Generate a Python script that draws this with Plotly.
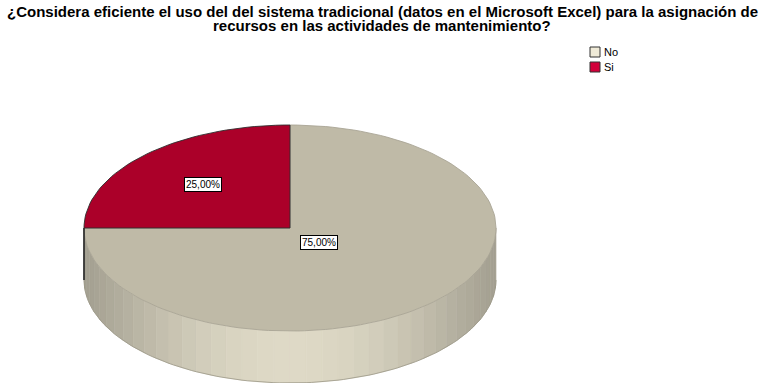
import math
import plotly.graph_objects as go

# Survey answers and their shares (percent)
categories = ["No", "Si"]
percent = [75.0, 25.0]

# Colours: legend swatch, top face, slice outline, and side (bright / dark) per answer
legend_colors = ["#EFEAD7", "#D2003A"]
top_colors = ["#BFBAA7", "#AB0029"]
outline_colors = ["#A9A595", "#2E2E2E"]
side_bright = [(222, 217, 198), (200, 0, 45)]
side_dark = [(164, 160, 145), (120, 0, 28)]
label_radius = [0.2, 0.6]

title_lines = [
    "¿Considera eficiente el uso del del sistema tradicional (datos en el Microsoft Excel) para la asignación de",
    "recursos en las actividades de mantenimiento?",
]

W, H = 764, 383
cx, cy, rx, ry, depth = 290, 228, 206, 103, 52
FONT = "Arial, Liberation Sans, sans-serif"


def pt(a_deg, dy=0.0):
    a = math.radians(a_deg)
    return cx + rx * math.cos(a), cy - ry * math.sin(a) + dy


fig = go.Figure()

total = sum(percent)
start = 90.0
spans = []
for v in percent:
    a0 = start
    a1 = start - 360.0 * v / total
    spans.append((a1, a0))
    start = a1

# Side wall of the front half, drawn as shaded vertical strips
n_strips = 40
for i, (a1, a0) in enumerate(spans):
    for k in (-1, 0, 1):
        lo = max(a1, -180 + 360 * k)
        hi = min(a0, 0 + 360 * k)
        if hi <= lo:
            continue
        steps = max(1, int(round((hi - lo) / 180.0 * n_strips)))
        for s in range(steps):
            t0 = lo + (hi - lo) * s / steps
            t1 = lo + (hi - lo) * (s + 1) / steps
            tm = math.radians((t0 + t1) / 2)
            f = max(0.0, -math.sin(tm)) ** 2.5
            c = tuple(int(round(side_dark[i][j] + (side_bright[i][j] - side_dark[i][j]) * f)) for j in range(3))
            col = "rgb(%d,%d,%d)" % c
            sub = [t0 + (t1 - t0) * q / 4 for q in range(5)]
            xs, ys = [], []
            for t in sub:
                x, y = pt(t)
                xs.append(x); ys.append(y)
            for t in reversed(sub):
                x, y = pt(t, depth)
                xs.append(x); ys.append(y)
            xs.append(xs[0]); ys.append(ys[0])
            fig.add_trace(go.Scatter(x=xs, y=ys, mode="lines", fill="toself",
                                     fillcolor=col, line=dict(color=col, width=0.6),
                                     hoverinfo="skip", showlegend=False))

# Bottom rim of the side wall
rim = [-180 + 180 * q / 120 for q in range(121)]
fig.add_trace(go.Scatter(x=[pt(t, depth)[0] for t in rim], y=[pt(t, depth)[1] for t in rim],
                         mode="lines", line=dict(color="#9A9787", width=0.8),
                         hoverinfo="skip", showlegend=False))

# Top faces of the slices
for i, (a1, a0) in enumerate(spans):
    n = max(8, int((a0 - a1) / 2))
    angs = [a0 - (a0 - a1) * q / n for q in range(n + 1)]
    xs = [cx] + [pt(t)[0] for t in angs] + [cx]
    ys = [cy] + [pt(t)[1] for t in angs] + [cy]
    fig.add_trace(go.Scatter(x=xs, y=ys, mode="lines", fill="toself",
                             fillcolor=top_colors[i], line=dict(color=outline_colors[i], width=0.9),
                             hoverinfo="skip", showlegend=False))

# Vertical edges where slice boundaries meet the front wall
for (a1, a0) in spans:
    for a in (a0, a1):
        if math.sin(math.radians(a)) <= 1e-9 and abs(math.cos(math.radians(a))) > 0.5:
            x0, y0 = pt(a)
            x1, y1 = pt(a, depth)
            fig.add_trace(go.Scatter(x=[x0, x1], y=[y0, y1], mode="lines",
                                     line=dict(color="#2A2A2A", width=1.2),
                                     hoverinfo="skip", showlegend=False))

# Percentage labels
for i, (a1, a0) in enumerate(spans):
    mid = (a0 + a1) / 2
    a = math.radians(mid)
    lx = cx + label_radius[i] * rx * math.cos(a)
    ly = cy - label_radius[i] * ry * math.sin(a)
    txt = ("%.2f%%" % (100.0 * percent[i] / total)).replace(".", ",")
    fig.add_annotation(x=lx, y=ly, xref="x", yref="y", text=txt, showarrow=False,
                       font=dict(family=FONT, size=10, color="black"),
                       bgcolor="white", bordercolor="black", borderwidth=1, borderpad=1)

# Title, one line per annotation for tight spacing
for j, line in enumerate(title_lines):
    fig.add_annotation(x=382, y=11 + 14 * j, xref="x", yref="y", text="<b>" + line + "</b>",
                       showarrow=False, xanchor="center", yanchor="middle",
                       font=dict(family=FONT, size=15, color="black"))

# Legend
lg_x, lg_y, lg_step, sw = 590, 47, 15, 10
for i, name in enumerate(categories):
    y0 = lg_y + i * lg_step
    fig.add_shape(type="rect", x0=lg_x, x1=lg_x + sw, y0=y0, y1=y0 + sw, xref="x", yref="y",
                  fillcolor=legend_colors[i], line=dict(color="#333333", width=1))
    fig.add_annotation(x=lg_x + sw + 2, y=y0 + sw / 2, xref="x", yref="y", text=name,
                       showarrow=False, xanchor="left", yanchor="middle",
                       font=dict(family=FONT, size=11, color="black"))

fig.update_layout(
    width=W, height=H,
    margin=dict(l=0, r=0, t=0, b=0),
    paper_bgcolor="white", plot_bgcolor="white",
    xaxis=dict(range=[0, W], visible=False, fixedrange=True),
    yaxis=dict(range=[H, 0], visible=False, fixedrange=True),
    showlegend=False,
)

fig.write_html("out.html")
